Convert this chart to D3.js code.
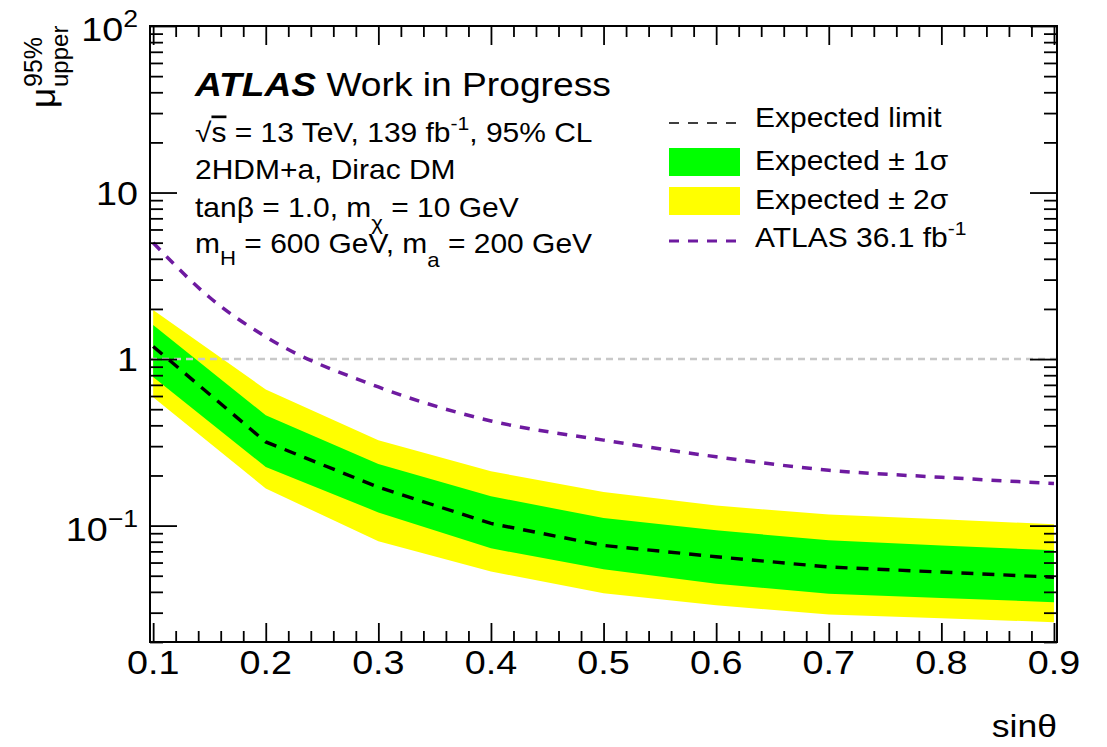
<!DOCTYPE html>
<html>
<head>
<meta charset="utf-8">
<script src="https://cdn.jsdelivr.net/npm/d3@7"></script>
<style>
  body { margin: 0; background: #fff; }
  svg text { font-family: "Liberation Sans", Arial, Helvetica, sans-serif; fill: #000; }
</style>
</head>
<body>
<svg id="chart" width="1107" height="747"></svg>
<script>
// values
var sinTheta = [0.1, 0.2, 0.3, 0.4, 0.5, 0.6, 0.7, 0.8, 0.9];
var expected = [1.19, 0.318, 0.17, 0.103, 0.076, 0.065, 0.0564, 0.0526, 0.049];
var plus1    = [1.6, 0.46, 0.234, 0.15, 0.111, 0.0937, 0.0816, 0.076, 0.071];
var minus1   = [0.78, 0.225, 0.12, 0.073, 0.0546, 0.0448, 0.039, 0.0367, 0.0347];
var plus2    = [1.97, 0.657, 0.326, 0.212, 0.159, 0.132, 0.1164, 0.109, 0.102];
var minus2   = [0.59, 0.167, 0.0805, 0.053, 0.0393, 0.0332, 0.0293, 0.0278, 0.0263];
var atlasX   = [0.1, 0.15, 0.2, 0.3, 0.4, 0.5, 0.6, 0.7, 0.8, 0.9];
var atlas36  = [5.0, 2.35, 1.36, 0.68, 0.425, 0.326, 0.259, 0.215, 0.195, 0.179];
var xTicks   = [0.1, 0.2, 0.3, 0.4, 0.5, 0.6, 0.7, 0.8, 0.9];
var xLabels  = ["0.1", "0.2", "0.3", "0.4", "0.5", "0.6", "0.7", "0.8", "0.9"];
var yTicks   = [0.1, 1, 10, 100];
var yLabels  = [["10", "\u22121"], ["1", ""], ["10", ""], ["10", "2"]];

var svg = d3.select("#chart");
var L = 150, R = 1057, T = 26, B = 642;
var SX = 1.11; // the picture is stretched sideways

var x = d3.scaleLinear().domain([0.0972, 0.9027]).range([L, R]);
var y = d3.scaleLog().domain([0.02, 100]).range([B, T]);

// minor ticks
var xMinor = d3.range(0.1, 0.9001, 0.02).filter(function(v){ return Math.abs(v*10 - Math.round(v*10)) > 0.01; });
var yMinor = [];
[0.01, 0.1, 1, 10].forEach(function(d){ for (var k = 2; k <= 9; k++) { var v = d*k; if (v >= 0.02 && v < 100) yMinor.push(v); } });

function txt(px, py, size, anchor) {
  return svg.append("text")
    .attr("transform", "translate(" + px + "," + py + ") scale(" + SX + ",1)")
    .attr("text-anchor", anchor || "start")
    .style("font-size", size + "px");
}

// bands
function band(hi, lo, col) {
  var pts = sinTheta.map(function(d,i){ return [x(d), y(hi[i])]; })
    .concat(sinTheta.map(function(d,i){ return [x(d), y(lo[i])]; }).reverse());
  svg.append("path").attr("d", d3.line()(pts) + "Z").style("fill", col).style("stroke", "none");
}
band(plus2, minus2, "#ffff00");
band(plus1, minus1, "#00ff00");

// mu = 1 line
svg.append("line").attr("x1", L).attr("x2", R).attr("y1", y(1)).attr("y2", y(1))
  .style("stroke", "#c8c8c8").style("stroke-width", 2.5).style("stroke-dasharray", "7,5");

// expected limit
svg.append("path")
  .datum(sinTheta)
  .attr("d", d3.line().x(function(d){ return x(d); }).y(function(d,i){ return y(expected[i]); }))
  .style("fill", "none").style("stroke", "#000").style("stroke-width", 3.4).style("stroke-dasharray", "12,9");

// ATLAS 36.1 fb-1
svg.append("path")
  .datum(atlasX)
  .attr("d", d3.line().curve(d3.curveMonotoneX).x(function(d){ return x(d); }).y(function(d,i){ return y(atlas36[i]); }))
  .style("fill", "none").style("stroke", "#6e1aa0").style("stroke-width", 3.5).style("stroke-dasharray", "10,9");

// frame and ticks
svg.append("g").attr("transform", "translate(0," + B + ")").call(d3.axisBottom(x).tickValues(xMinor).tickSize(-11).tickFormat("").tickSizeOuter(0));
svg.append("g").attr("transform", "translate(0," + B + ")").call(d3.axisBottom(x).tickValues(xTicks).tickSize(-19).tickFormat("").tickSizeOuter(0));
svg.append("g").attr("transform", "translate(0," + T + ")").call(d3.axisTop(x).tickValues(xMinor).tickSize(-11).tickFormat("").tickSizeOuter(0));
svg.append("g").attr("transform", "translate(0," + T + ")").call(d3.axisTop(x).tickValues(xTicks).tickSize(-19).tickFormat("").tickSizeOuter(0));
svg.append("g").attr("transform", "translate(" + L + ",0)").call(d3.axisLeft(y).tickValues(yMinor).tickSize(-13).tickFormat("").tickSizeOuter(0));
svg.append("g").attr("transform", "translate(" + L + ",0)").call(d3.axisLeft(y).tickValues(yTicks).tickSize(-27).tickFormat("").tickSizeOuter(0));
svg.append("g").attr("transform", "translate(" + R + ",0)").call(d3.axisRight(y).tickValues(yMinor).tickSize(-13).tickFormat("").tickSizeOuter(0));
svg.append("g").attr("transform", "translate(" + R + ",0)").call(d3.axisRight(y).tickValues(yTicks).tickSize(-27).tickFormat("").tickSizeOuter(0));
svg.selectAll(".domain").remove();
svg.selectAll(".tick line").style("stroke", "#000").style("stroke-width", 1.8);
svg.append("rect").attr("x", L).attr("y", T).attr("width", R - L).attr("height", B - T)
  .style("fill", "none").style("stroke", "#000").style("stroke-width", 2);

// tick labels
xTicks.forEach(function(d,i){ txt(x(d), 674, 34, "middle").text(xLabels[i]); });
yTicks.forEach(function(d,i){
  var t = txt(138, y(d) + (yLabels[i][1] ? 15 : 12), 34, "end");
  t.append("tspan").text(yLabels[i][0]);
  if (yLabels[i][1]) t.append("tspan").attr("dy", -14).style("font-size", "24px").text(yLabels[i][1]);
});

// axis titles
txt(1057, 737, 32, "end").text("sin\u03b8");
var yt = svg.append("g").attr("transform", "translate(55,108) rotate(-90)");
yt.append("text").style("font-size", "35px").text("\u03bc");
yt.append("text").attr("x", 21).attr("y", -13).style("font-size", "25px").text("95%");
yt.append("text").attr("x", 21).attr("y", 13).style("font-size", "24px").text("upper");

// ATLAS label
var a = txt(195, 96, 33.5);
a.append("tspan").style("font-weight", "bold").style("font-style", "italic").text("ATLAS");
a.append("tspan").text(" Work in Progress");

var l1 = txt(195, 142, 27);
l1.append("tspan").text("\u221a");
l1.append("tspan").style("text-decoration", "overline").text("s");
l1.append("tspan").text(" = 13 TeV, 139 fb");
l1.append("tspan").attr("dy", -12).style("font-size", "19px").text("-1");
l1.append("tspan").attr("dy", 12).text(", 95% CL");

txt(195, 179, 27).text("2HDM+a, Dirac DM");

var l3 = txt(195, 217, 27);
l3.append("tspan").text("tan\u03b2 = 1.0, m");
l3.append("tspan").attr("dy", 13).style("font-size", "20px").text("\u03c7");
l3.append("tspan").attr("dy", -13).text(" = 10 GeV");

var l4 = txt(195, 253, 27);
l4.append("tspan").text("m");
l4.append("tspan").attr("dy", 12).style("font-size", "20px").text("H");
l4.append("tspan").attr("dy", -12).text(" = 600 GeV, m");
l4.append("tspan").attr("dy", 14).style("font-size", "20px").text("a");
l4.append("tspan").attr("dy", -14).text(" = 200 GeV");

// legend
var legX1 = 669, legX2 = 740, legT = 755;
svg.append("line").attr("x1", legX1).attr("x2", legX2).attr("y1", 123).attr("y2", 123)
  .style("stroke", "#000").style("stroke-width", 1.5).style("stroke-dasharray", "10,9");
svg.append("rect").attr("x", legX1).attr("y", 148).attr("width", legX2 - legX1).attr("height", 28).style("fill", "#00ff00");
svg.append("rect").attr("x", legX1).attr("y", 187).attr("width", legX2 - legX1).attr("height", 28).style("fill", "#ffff00");
svg.append("line").attr("x1", legX1).attr("x2", legX2).attr("y1", 241).attr("y2", 241)
  .style("stroke", "#6e1aa0").style("stroke-width", 3).style("stroke-dasharray", "10,9");

txt(legT, 127, 27).text("Expected limit");
txt(legT, 170, 27).text("Expected \u00b1 1\u03c3");
txt(legT, 209, 27).text("Expected \u00b1 2\u03c3");
var g3 = txt(legT, 247, 27);
g3.append("tspan").text("ATLAS 36.1 fb");
g3.append("tspan").attr("dy", -12).style("font-size", "19px").text("-1");
</script>
</body>
</html>
